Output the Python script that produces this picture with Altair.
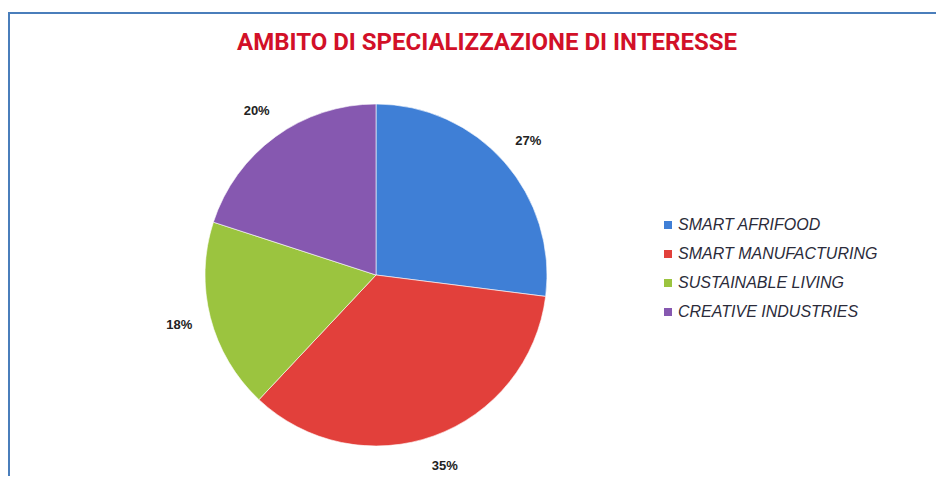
import altair as alt
import pandas as pd

categories = ["SMART AFRIFOOD", "SMART MANUFACTURING", "SUSTAINABLE LIVING", "CREATIVE INDUSTRIES"]
values = [27, 35, 18, 20]
labels = ["27%", "35%", "18%", "20%"]
colors = ["#3f7fd6", "#e2403b", "#9bc43f", "#8658b0"]
title_text = "AMBITO DI SPECIALIZZAZIONE DI INTERESSE"

df = pd.DataFrame({"cat": categories, "val": values, "lab": labels, "ord": list(range(len(categories)))})

W, H = 928, 463
CX, CY, R = 368, 262, 171

base = alt.Chart(df).encode(
    theta=alt.Theta("val:Q", stack=True),
    order=alt.Order("ord:Q"),
)

pie = base.mark_arc(outerRadius=R, stroke="#ffffff", strokeWidth=0.6).encode(
    x=alt.value(CX), y=alt.value(CY),
    color=alt.Color(
        "cat:N",
        scale=alt.Scale(domain=categories, range=colors),
        sort=categories,
        legend=alt.Legend(
            title=None, orient="none", legendX=652, legendY=204,
            symbolType="square", symbolSize=64, symbolStrokeWidth=0,
            labelFont="Liberation Sans", labelFontStyle="italic", labelFontSize=16,
            labelColor="#2b2b3a", rowPadding=13, labelOffset=2, labelLimit=400,
        ),
    ),
)

text = base.mark_text(radius=203, font="Liberation Sans", fontWeight="bold", fontSize=13, color="#222222").encode(
    x=alt.value(CX), y=alt.value(CY), text="lab:N"
)

title = alt.Chart(pd.DataFrame({"t": [title_text]})).mark_text(
    font="Roboto", fontWeight="bold", fontSize=24, color="#d21028", baseline="middle", align="center"
).encode(x=alt.value(479), y=alt.value(30), text="t:N")

frame_df = pd.DataFrame({"side": ["top", "left"]})
top_line = alt.Chart(frame_df).transform_filter("datum.side == 'top'").mark_rule(
    color="#4a7ebb", strokeWidth=2
).encode(x=alt.value(0), x2=alt.value(W), y=alt.value(0))
left_line = alt.Chart(frame_df).transform_filter("datum.side == 'left'").mark_rule(
    color="#4a7ebb", strokeWidth=2
).encode(x=alt.value(1), y=alt.value(0), y2=alt.value(H + 30))

chart = (pie + text + title + top_line + left_line).properties(
    width=W, height=H,
    autosize=alt.AutoSizeParams(type="none"),
    padding={"left": 0, "top": 5, "right": 0, "bottom": 0},
    background="#ffffff",
).configure_view(stroke=None)

chart.save("out.html", embed_options={"renderer": "svg", "actions": False})
